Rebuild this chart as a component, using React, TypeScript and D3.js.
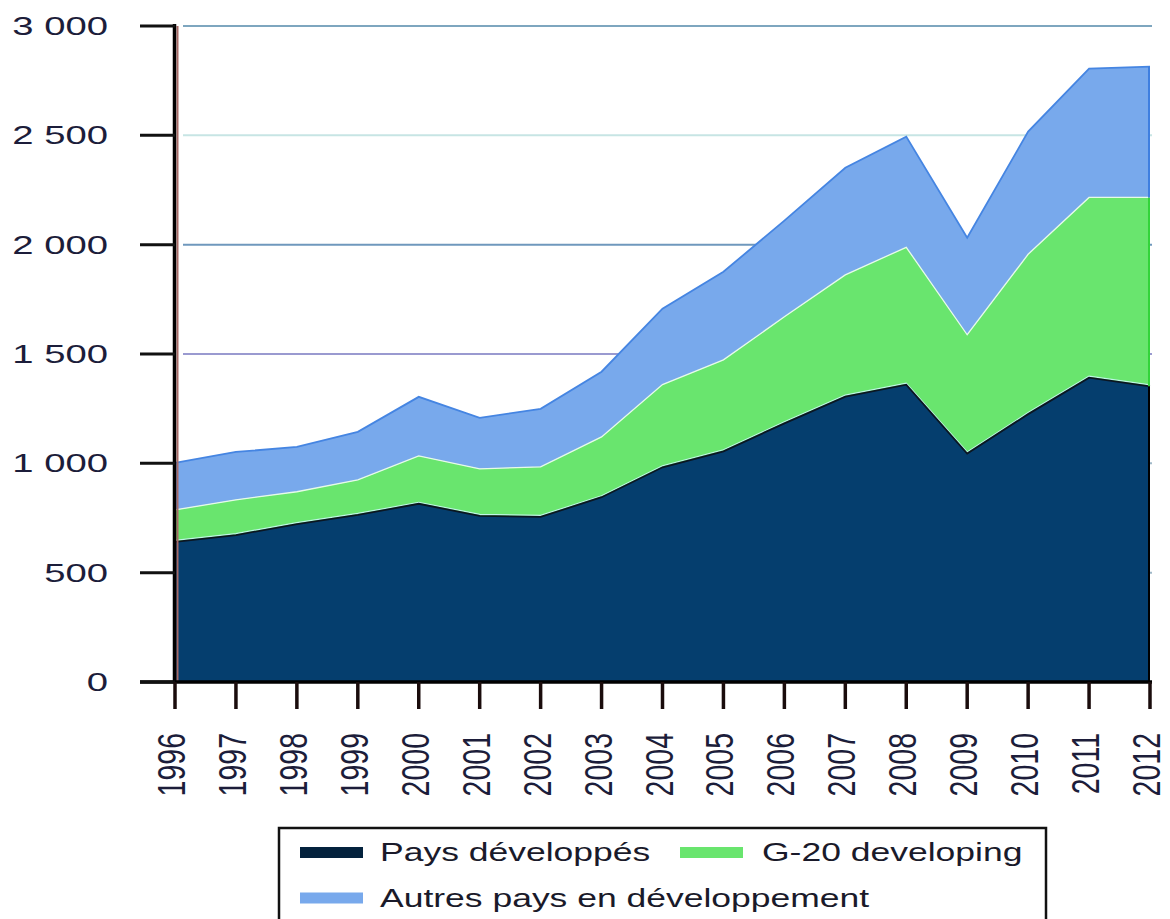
import { useEffect, useRef } from 'react';
import * as d3 from 'd3';

const years = [1996, 1997, 1998, 1999, 2000, 2001, 2002, 2003, 2004, 2005, 2006, 2007, 2008, 2009, 2010, 2011, 2012];
const developed = [641, 672, 722, 764, 815, 760, 755, 845, 982, 1055, 1183, 1305, 1360, 1045, 1225, 1392, 1352];
const g20Developing = [146, 161, 148, 160, 219, 215, 229, 276, 378, 418, 487, 557, 628, 543, 731, 824, 864];
const otherDeveloping = [215, 219, 205, 220, 270, 233, 265, 298, 347, 403, 440, 490, 506, 444, 561, 589, 598];

const seriesNames = ['Pays développés', 'G-20 developing', 'Autres pays en développement'];
const yTicks = [0, 500, 1000, 1500, 2000, 2500, 3000];
const yTickLabels = ['0', '500', '1 000', '1 500', '2 000', '2 500', '3 000'];

const fills = ['#053e6e', '#69e56e', '#78a9ec'];
const topStrokes = ['#0b1622', '#e6fbe8', '#4585e2'];
const edgeStrokes = ['#000000', '#33d43a', '#3f7fe0'];
const gridColors = ['none', '#9fb8c8', '#9fb8c8', '#9a9ad0', '#6f98bd', '#c7e5e4', '#7ea6bf'];

export default function App() {
  const ref = useRef<SVGSVGElement>(null);

  useEffect(() => {
    const width = 1170;
    const height = 919;
    const left = 175;
    const right = 1150;
    const top = 26;
    const bottom = 682;
    const font = 'Liberation Sans, Arial, sans-serif';

    const svg = d3.select(ref.current).attr('width', width).attr('height', height);
    svg.selectAll('*').remove();

    const table = years.map((y, i) => ({ year: y, a: developed[i], b: g20Developing[i], c: otherDeveloping[i] }));
    const stacked = d3.stack<any>().keys(['a', 'b', 'c'])(table);

    const x = d3.scaleLinear().domain([1996, 2012]).range([left, right]);
    const yScale = d3.scaleLinear().domain([0, 3000]).range([bottom, top]);

    // gridlines
    svg.append('g')
      .selectAll('line')
      .data(yTicks.slice(1))
      .join('line')
      .attr('x1', left + 8)
      .attr('x2', right + 2)
      .attr('y1', d => yScale(d))
      .attr('y2', d => yScale(d))
      .attr('stroke', (d, i) => gridColors[i + 1])
      .attr('stroke-width', 2);

    const area = d3.area<any>()
      .x(d => x(d.data.year))
      .y0(d => yScale(d[0]))
      .y1(d => yScale(d[1]));

    const topLine = d3.line<any>()
      .x(d => x(d.data.year))
      .y(d => yScale(d[1]));

    const layers = svg.append('g');
    stacked.forEach((s, i) => {
      layers.append('path').datum(s).attr('d', area).attr('fill', fills[i]);
    });
    stacked.forEach((s, i) => {
      if (i === 0) {
        layers.append('path').datum(s).attr('d', topLine)
          .attr('fill', 'none').attr('stroke', '#bff5e6').attr('stroke-width', 1.2)
          .attr('transform', 'translate(0,-1.5)');
      }
      layers.append('path').datum(s).attr('d', topLine)
        .attr('fill', 'none').attr('stroke', topStrokes[i]).attr('stroke-width', i === 1 ? 1.3 : 1.8);
      const last = s[s.length - 1];
      layers.append('line')
        .attr('x1', x(last.data.year) - 1).attr('x2', x(last.data.year) - 1)
        .attr('y1', yScale(last[0])).attr('y2', yScale(last[1]))
        .attr('stroke', edgeStrokes[i]).attr('stroke-width', 2);
    });

    // axes
    const axis = svg.append('g');
    axis.append('line')
      .attr('x1', left + 2.5).attr('x2', left + 2.5)
      .attr('y1', top).attr('y2', bottom)
      .attr('stroke', '#a86a66').attr('stroke-width', 2);
    axis.append('line')
      .attr('x1', left - 0.5).attr('x2', left - 0.5)
      .attr('y1', top - 2).attr('y2', bottom + 1)
      .attr('stroke', '#000').attr('stroke-width', 3.5);
    axis.append('line')
      .attr('x1', 140).attr('x2', right + 2)
      .attr('y1', bottom).attr('y2', bottom)
      .attr('stroke', '#000').attr('stroke-width', 3.5);

    axis.selectAll('.ytick')
      .data(yTicks)
      .join('line')
      .attr('class', 'ytick')
      .attr('x1', 140).attr('x2', left)
      .attr('y1', d => yScale(d)).attr('y2', d => yScale(d))
      .attr('stroke', '#111').attr('stroke-width', 3);

    axis.selectAll('.ylabel')
      .data(yTicks)
      .join('text')
      .attr('class', 'ylabel')
      .attr('transform', d => `translate(108, ${yScale(d) + 9}) scale(1.53, 1)`)
      .attr('text-anchor', 'end')
      .attr('font-family', font)
      .attr('font-size', 25)
      .attr('fill', '#1c1d3a')
      .text((d, i) => yTickLabels[i]);

    axis.selectAll('.xtick')
      .data(years)
      .join('line')
      .attr('class', 'xtick')
      .attr('x1', d => x(d)).attr('x2', d => x(d))
      .attr('y1', bottom).attr('y2', bottom + 27)
      .attr('stroke', '#1a0c0c').attr('stroke-width', 3.5);

    axis.selectAll('.xlabel')
      .data(years)
      .join('text')
      .attr('class', 'xlabel')
      .attr('transform', d => `translate(${x(d) + 10}, 733) scale(1.38, 1) rotate(-90)`)
      .attr('text-anchor', 'end')
      .attr('font-family', font)
      .attr('font-size', 28.5)
      .attr('fill', '#1c1d3a')
      .text(d => d);

    // legend
    const legend = svg.append('g');
    legend.append('rect')
      .attr('x', 279).attr('y', 828)
      .attr('width', 767).attr('height', 120)
      .attr('fill', 'white').attr('stroke', '#111').attr('stroke-width', 2.5);

    const legendPos = [
      { sx: 300, tx: 380, y: 852.5 },
      { sx: 680, tx: 762, y: 852.5 },
      { sx: 300, tx: 380, y: 898 }
    ];
    seriesNames.forEach((name, i) => {
      const p = legendPos[i];
      legend.append('rect')
        .attr('x', p.sx).attr('y', p.y - 5.5)
        .attr('width', 63).attr('height', 11)
        .attr('fill', i === 0 ? '#04223d' : fills[i]);
      legend.append('text')
        .attr('transform', `translate(${p.tx}, ${p.y + 8.5}) scale(1.42, 1)`)
        .attr('font-family', font)
        .attr('font-size', 25)
        .attr('fill', '#1a1a2a')
        .text(name);
    });
  }, []);

  return (
    <div style={{ position: 'absolute', left: 0, top: 0 }}>
      <svg ref={ref} style={{ display: 'block' }}></svg>
    </div>
  );
}
